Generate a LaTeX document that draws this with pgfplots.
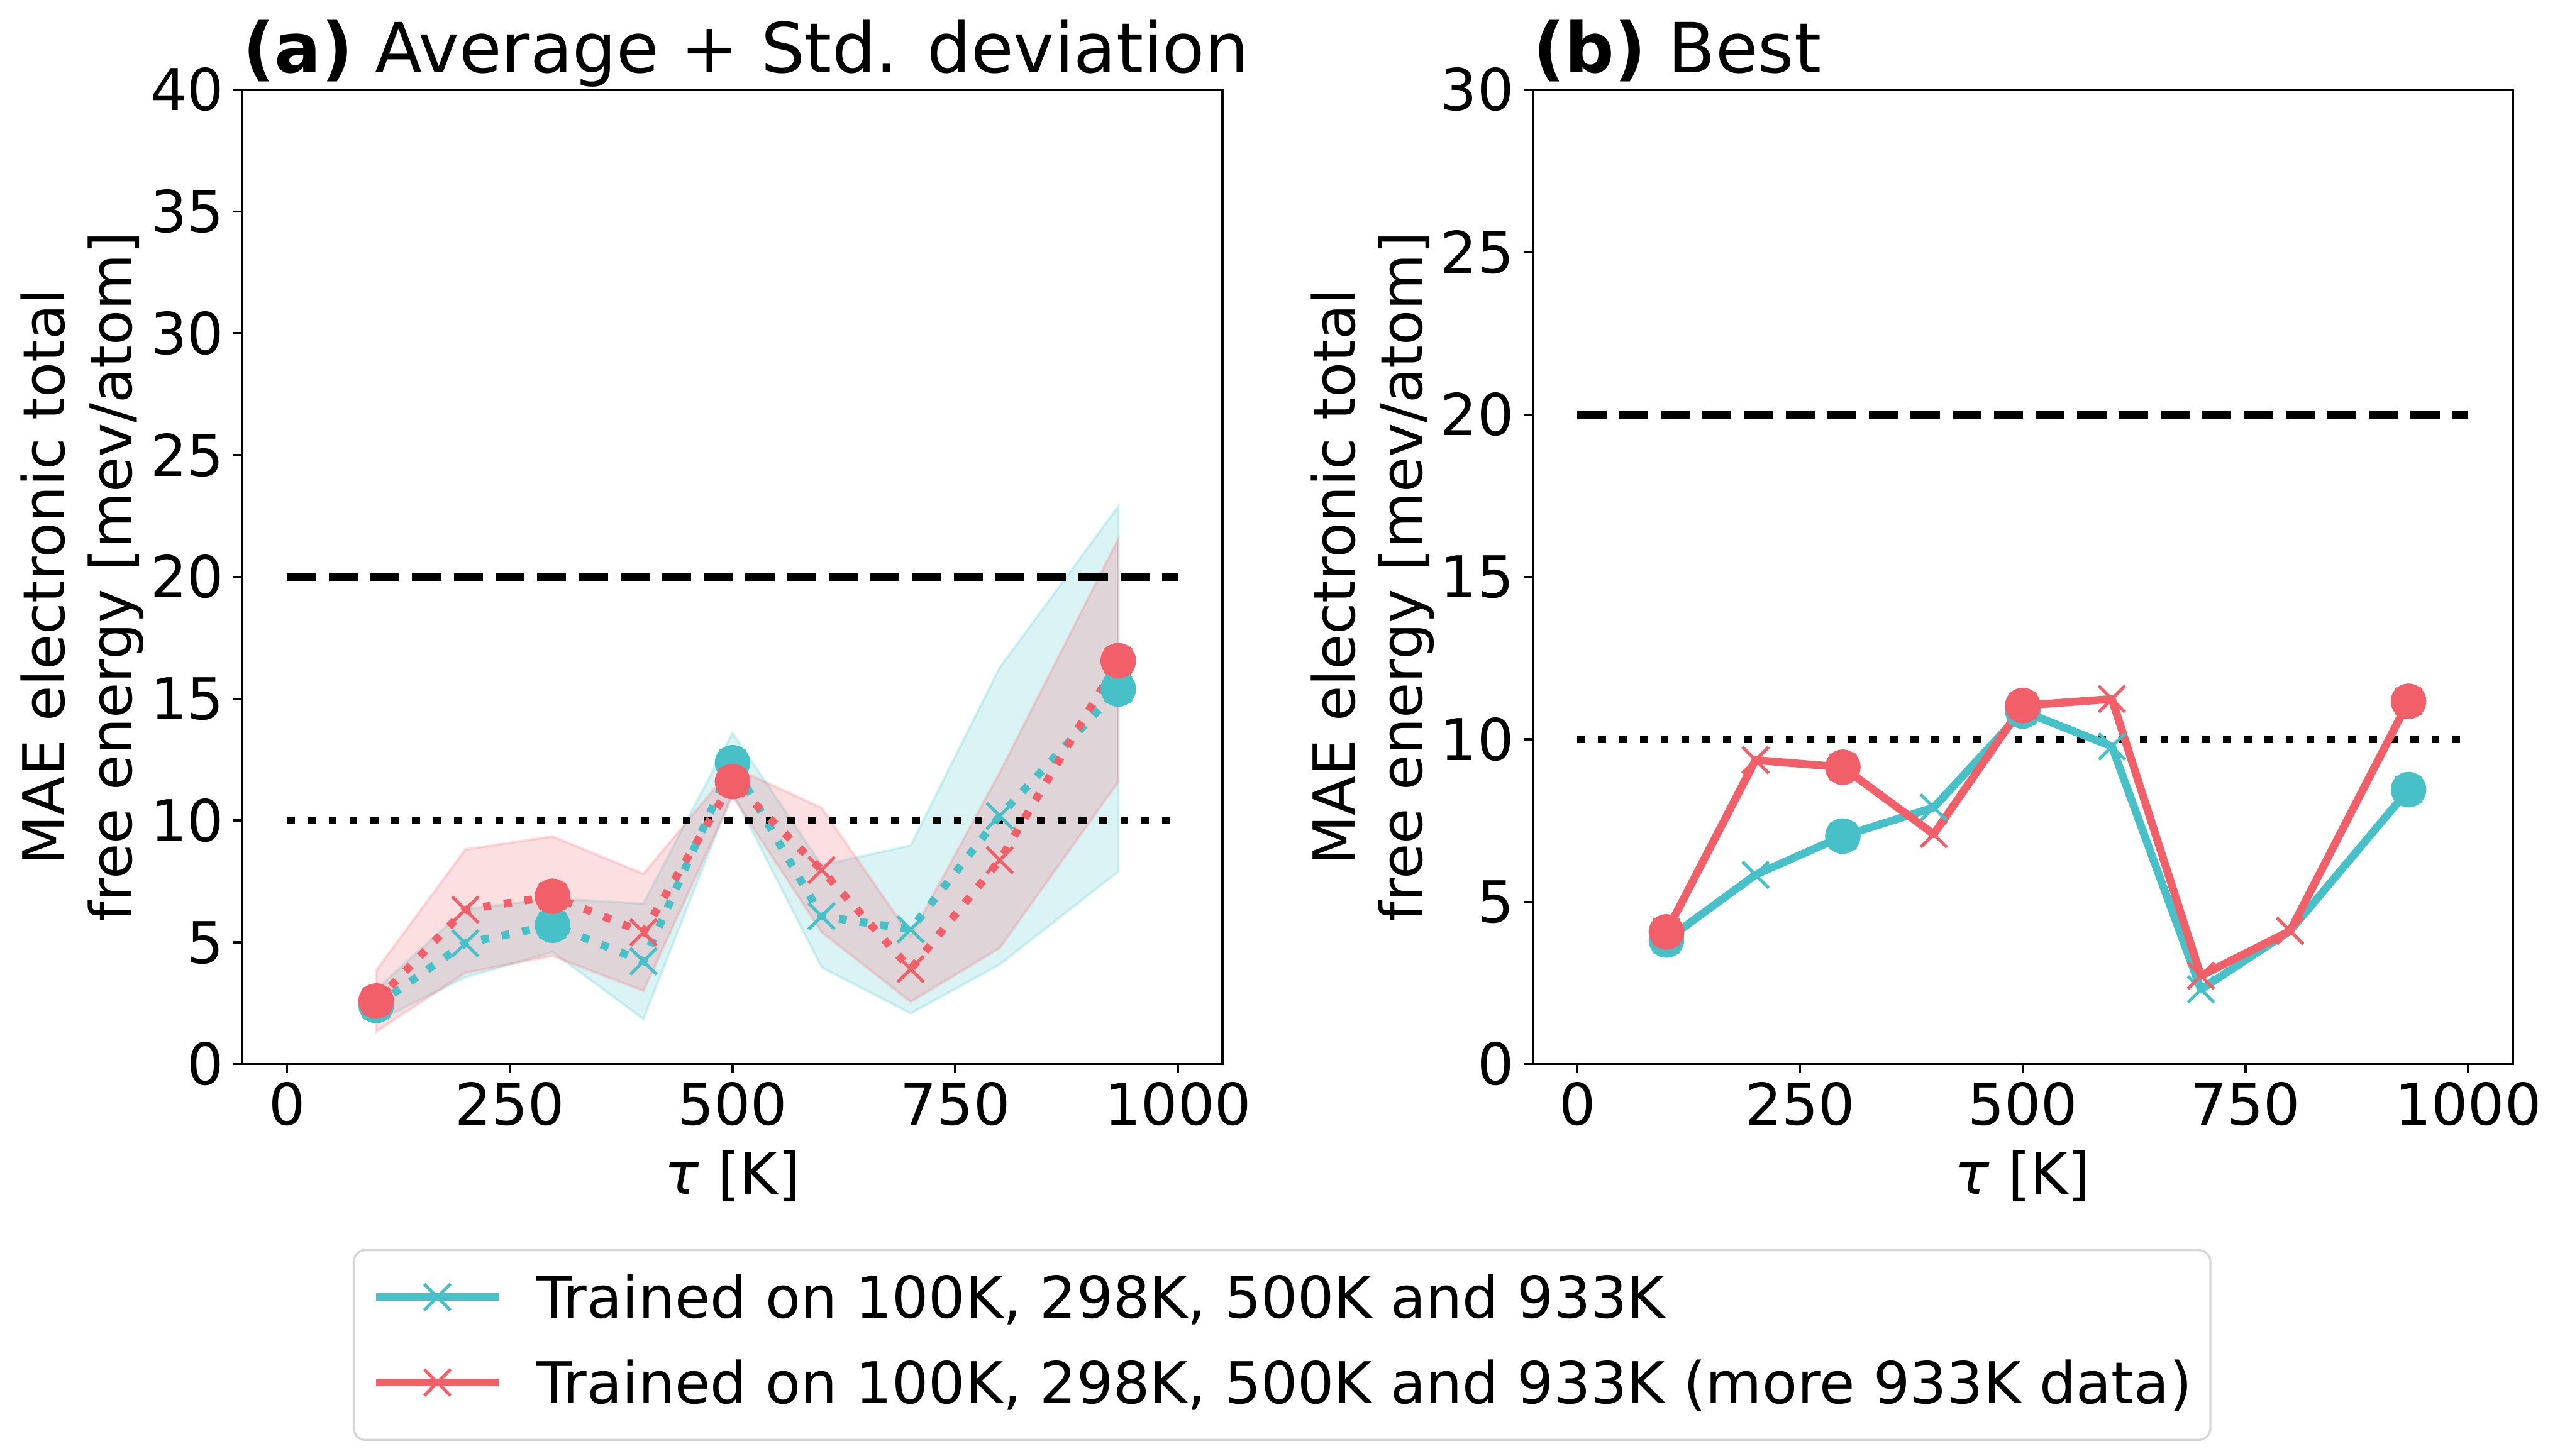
\documentclass[border=0pt]{standalone}
\usepackage{fontspec}
\setmainfont{DejaVu Sans}
\usepackage{pgfplots}
\pgfplotsset{compat=1.18}
\definecolor{cyanc}{RGB}{71,193,199}
\definecolor{redc}{RGB}{241,96,104}
\definecolor{legedge}{RGB}{214,214,214}

\pgfplotsset{
  myax/.style={
    scale only axis, width=374pt, height=372pt,
    xmin=-50, xmax=1050, ymin=0,
    xtick={0,250,500,750,1000}, xticklabels={0,250,500,750,1000},
    tick align=outside, major tick length=3.5pt,
    xtick pos=bottom, ytick pos=left,
    tick style={black, line width=0.8pt},
    axis line style={line width=0.8pt},
    /pgf/number format/assume math mode=true,
    tick label style={font=\fontsize{22}{26}\selectfont},
    xticklabel style={anchor=north, inner sep=0pt, text height=16pt, text depth=0pt},
    yticklabel style={anchor=east, inner sep=0pt, text height=16pt, text depth=0pt},
    xticklabel shift=3.5pt, yticklabel shift=3.5pt,
    label style={font=\fontsize{22}{25.5}\selectfont},
    xlabel={{\itshape τ} [K]},
    xlabel style={at={(axis description cs:0.5,-0.1337)}, anchor=base, inner sep=0pt},
    ylabel={MAE electronic total\\free energy [mev/atom]},
    ylabel style={at={(axis description cs:-0.1005,0.5)}, anchor=south, inner sep=0pt, align=center},
    title style={at={(axis description cs:0,1)}, anchor=base west, yshift=0.6pt, inner sep=0pt, font=\fontsize{26.4}{31}\selectfont},
  },
  band/.style={draw=#1, fill=#1, fill opacity=0.2, draw opacity=0.2, line width=1pt, forget plot},
  dotline/.style={#1, line width=3pt, dash pattern=on 3pt off 4.95pt, mark=x, mark size=7.07pt, mark options={solid, line width=1.2pt}, forget plot},
  solline/.style={#1, line width=3pt, line join=round, mark=x, mark size=7.07pt, mark options={solid, line width=1.2pt}, forget plot},
  circ/.style={#1, only marks, mark=*, mark size=6.6pt, forget plot},
  refdash/.style={black, line width=3pt, dash pattern=on 11.1pt off 4.8pt, forget plot},
  refdot/.style={black, line width=3pt, dash pattern=on 3pt off 4.95pt, forget plot},
}

\begin{document}
\begin{tikzpicture}
\useasboundingbox (0,0) rectangle (977.04pt,555.84pt);

\begin{axis}[myax, at={(92.57pt,149.6pt)}, anchor=south west,
  ymax=40, ytick={0,5,...,40},
  title={\textbf{(a)} Average + Std. deviation},
  legend cell align=left,
  legend style={at={(axis description cs:0.1124,-0.1899)}, anchor=north west,
    draw=legedge, line width=0.8pt, rounded corners=4.4pt, fill=white,
    inner xsep=7pt, inner ysep=8.9pt, row sep=10.6pt, column sep=13pt,
    font=\fontsize{22}{26}\selectfont,
    nodes={inner sep=0pt, text height=17pt, text depth=5pt}},
  legend image code/.code={\draw[mark repeat=2,mark phase=2,#1] plot coordinates {(0pt,2pt) (23.4pt,2pt) (46.8pt,2pt)};},
]
\addlegendimage{cyanc, solid, line width=3pt, mark=x, mark size=7.07pt, mark options={solid, line width=1.2pt}}
\addlegendentry{Trained on 100K, 298K, 500K and 933K}
\addlegendimage{redc, solid, line width=3pt, mark=x, mark size=7.07pt, mark options={solid, line width=1.2pt}}
\addlegendentry{Trained on 100K, 298K, 500K and 933K (more 933K data)}

\addplot[band=cyanc] coordinates {(100,3.07) (200,6.36) (298,6.80) (400,6.59) (500,13.60) (600,8.17) (700,8.98) (800,16.29) (933,22.90)
  (933,7.90) (800,4.09) (700,2.08) (600,3.97) (500,11.14) (400,1.85) (298,4.60) (200,3.56) (100,1.75)} -- cycle;
\addplot[band=redc] coordinates {(100,3.85) (200,8.81) (298,9.35) (400,7.81) (500,12.20) (600,10.52) (700,5.24) (800,11.97) (933,21.55)
  (933,11.59) (800,4.77) (700,2.56) (600,5.42) (500,11.00) (400,3.01) (298,4.44) (200,3.75) (100,1.33)} -- cycle;

\addplot[refdash] coordinates {(0,20) (1000,20)};
\addplot[refdot] coordinates {(0,10) (1000,10)};

\addplot[dotline=cyanc] coordinates {(100,2.41) (200,4.96) (298,5.70) (400,4.22) (500,12.37) (600,6.07) (700,5.53) (800,10.19) (933,15.40)};
\addplot[circ=cyanc] coordinates {(100,2.41) (298,5.70) (500,12.37) (933,15.40)};
\addplot[dotline=redc] coordinates {(100,2.59) (200,6.34) (298,6.89) (400,5.41) (500,11.60) (600,7.97) (700,3.90) (800,8.37) (933,16.56)};
\addplot[circ=redc] coordinates {(100,2.59) (298,6.89) (500,11.60) (933,16.56)};
\end{axis}

\begin{axis}[myax, at={(585.0pt,149.6pt)}, anchor=south west,
  ymax=30, ytick={0,5,...,30},
  title={\textbf{(b)} Best},
]
\addplot[refdash] coordinates {(0,20) (1000,20)};
\addplot[refdot] coordinates {(0,10) (1000,10)};

\addplot[solline=cyanc] coordinates {(100,3.82) (200,5.83) (298,7.02) (400,7.90) (500,10.87) (600,9.78) (700,2.30) (800,4.10) (933,8.45)};
\addplot[circ=cyanc] coordinates {(100,3.82) (298,7.02) (500,10.87) (933,8.45)};
\addplot[solline=redc] coordinates {(100,4.07) (200,9.36) (298,9.14) (400,7.08) (500,11.04) (600,11.24) (700,2.72) (800,4.10) (933,11.17)};
\addplot[circ=redc] coordinates {(100,4.07) (298,9.14) (500,11.04) (933,11.17)};
\end{axis}
\end{tikzpicture}
\end{document}
